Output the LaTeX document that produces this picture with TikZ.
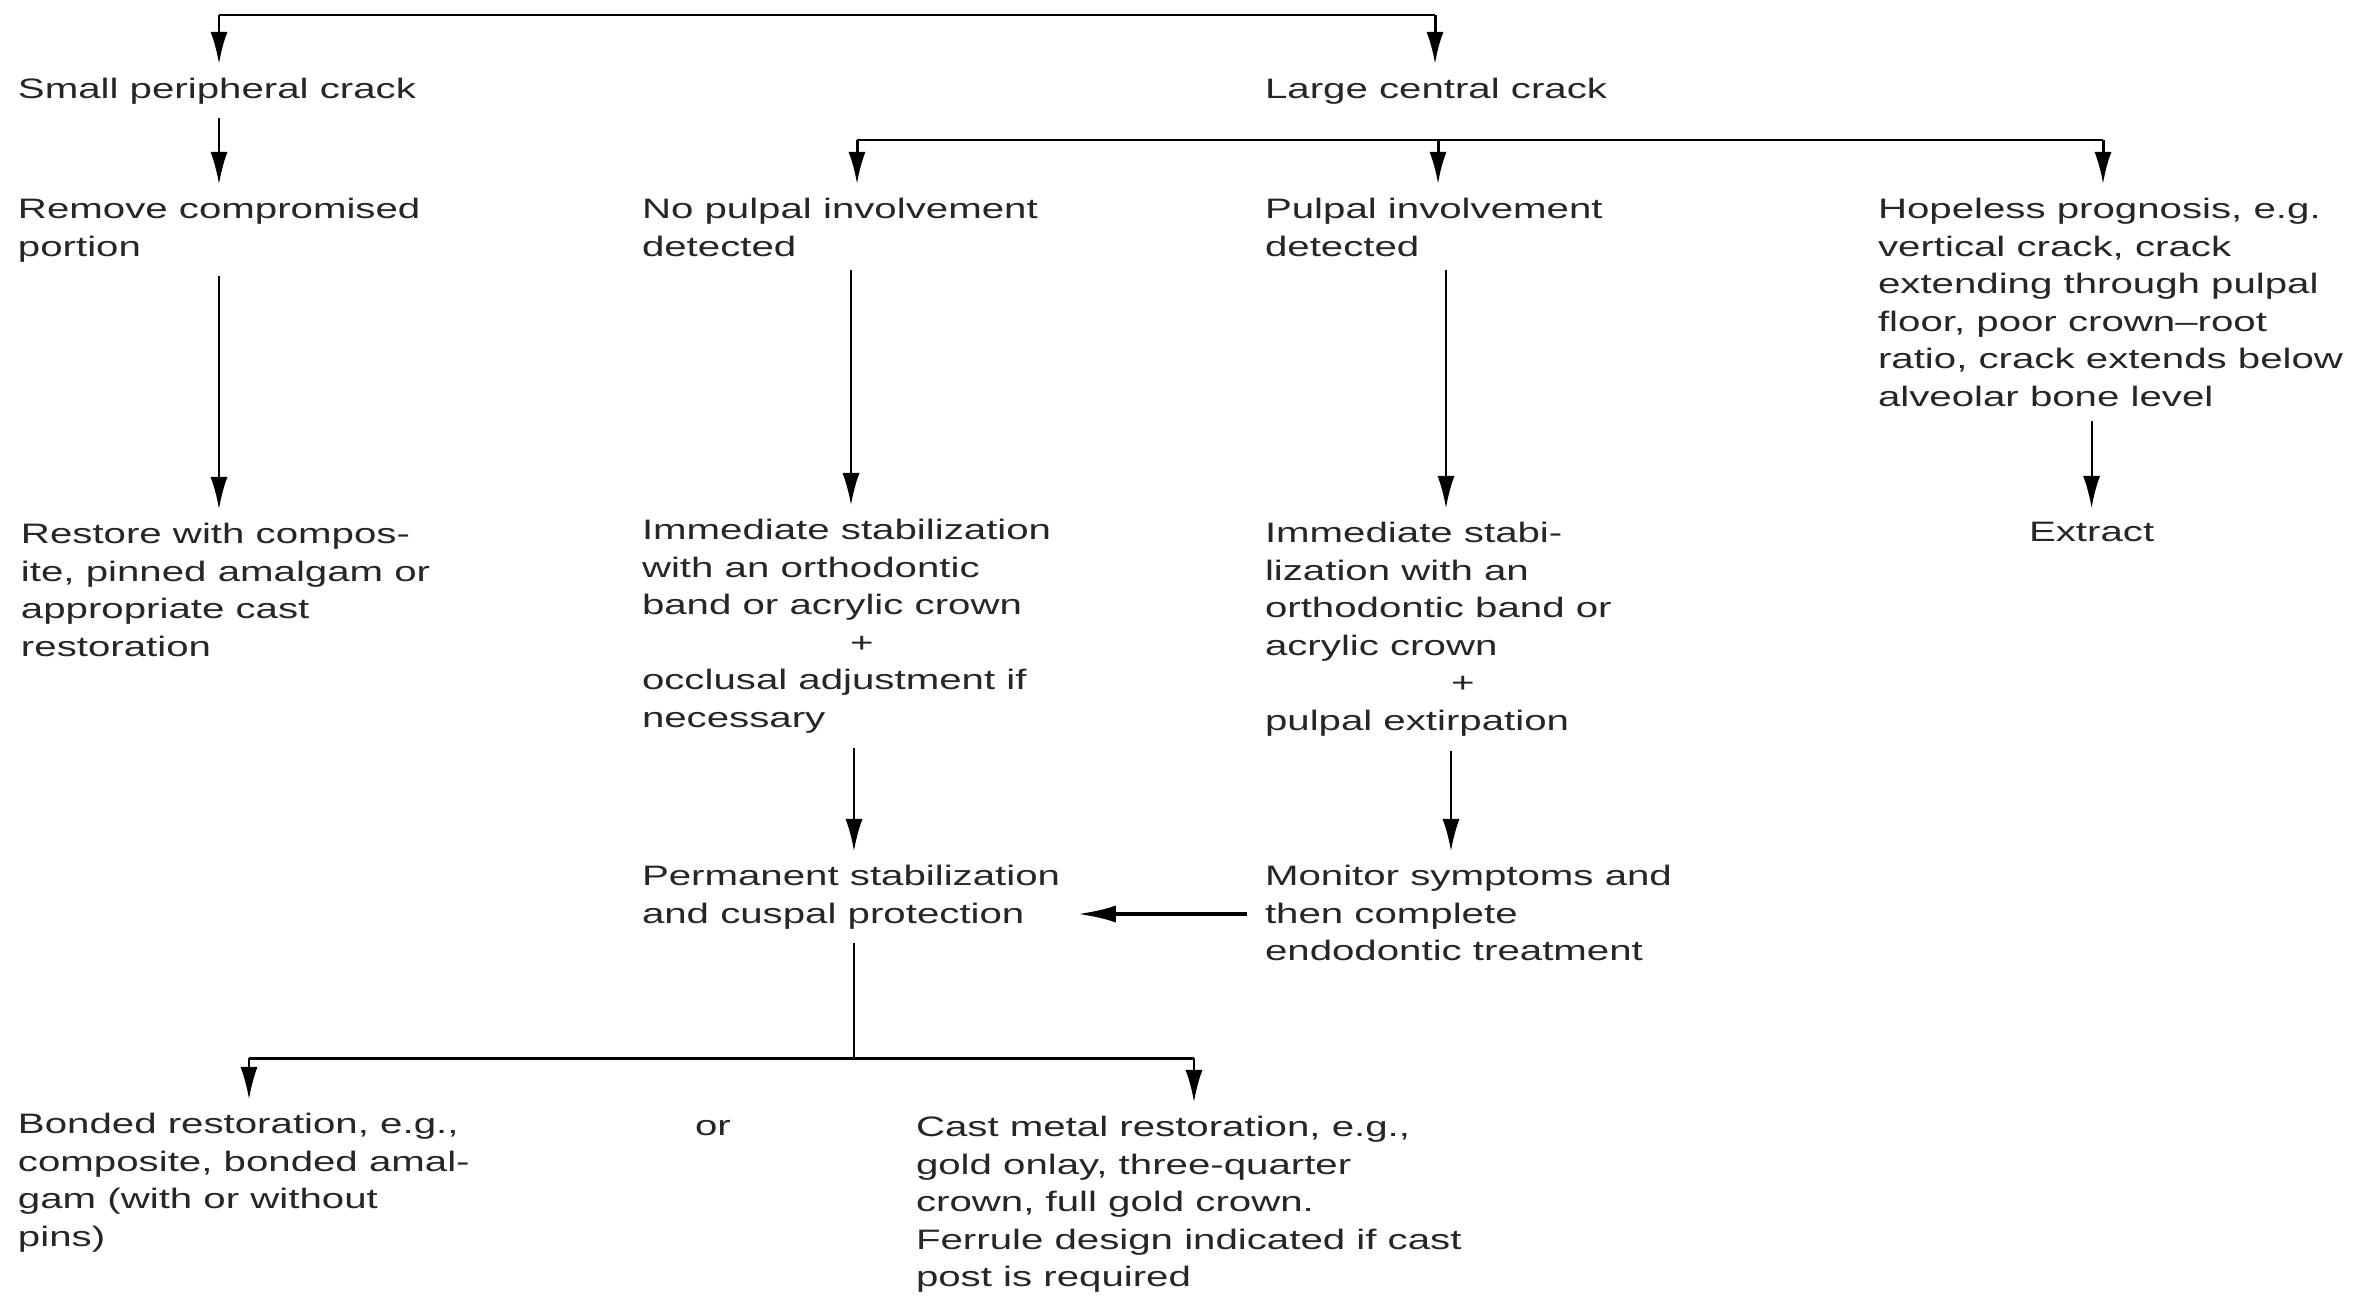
\documentclass[tikz,border=0pt]{standalone}
\usepackage{fontspec}
\setmainfont{Liberation Sans}[FakeStretch=1.43]
\usetikzlibrary{arrows.meta,positioning}

\begin{document}
\begin{tikzpicture}[x=0.01cm,y=-0.01cm,
  txt/.style={align=left,anchor=north west,inner sep=0pt,outer xsep=0pt,outer ysep=4pt,
    text=black!85,font=\fontsize{8}{10.7}\selectfont},
  arr/.style={-{Latex[length=0.32cm,width=0.17cm]},line width=0.6pt},
  bar/.style={line width=0.85pt}]
\useasboundingbox (0,0) rectangle (2369,1297);

       \node [txt] (small) at (18,64) {Small peripheral crack};
       \node [txt] (large) at (1265,64) {Large central crack};
       \node [txt] (remove) at (18,184) {Remove compromised\\portion};
       \node [txt] (nopulp) at (642,184) {No pulpal involvement\\detected};
       \node [txt] (pulp) at (1265,184) {Pulpal involvement\\detected};
       \node [txt] (hopeless) at (1878,184) {Hopeless prognosis, e.g.\\vertical crack, crack\\extending through pulpal\\floor, poor crown--root\\ratio, crack extends below\\alveolar bone level};
       \node [txt] (restore) at (21,509) {Restore with compos-\\ite, pinned amalgam or\\appropriate cast\\restoration};
       \node [txt] (immed1) at (642,505) {Immediate stabilization\\with an orthodontic\\band or acrylic crown\\\hspace*{2.08cm}+\\occlusal adjustment if\\necessary};
       \node [txt] (immed2) at (1265,508) {Immediate stabi-\\lization with an\\orthodontic band or\\acrylic crown\\\hspace*{1.86cm}+\\pulpal extirpation};
       \node [txt] (extract) at (2029,508) {Extract};
       \node [txt] (perm) at (642,851) {Permanent stabilization\\and cuspal protection};
       \node [txt] (monitor) at (1265,851) {Monitor symptoms and\\then complete\\endodontic treatment};
       \node [txt] (bonded) at (18,1099) {Bonded restoration, e.g.,\\composite, bonded amal-\\gam (with or without\\pins)};
       \node [txt] (or) at (695,1106) {or};
       \node [txt] (cast) at (916,1102) {Cast metal restoration, e.g.,\\gold onlay, three-quarter\\crown, full gold crown.\\Ferrule design indicated if cast\\post is required};

\coordinate (top1) at (219,15);
\coordinate (top2) at (1435,15);
\coordinate (mid1) at (857,140);
\coordinate (mid2) at (1438,140);
\coordinate (mid3) at (2103,140);
\coordinate (col1) at (851,0);
\coordinate (col2) at (1446,0);
\coordinate (col3) at (854,0);
\coordinate (col4) at (1451,0);
\coordinate (split) at (854,1058);
\coordinate (lt) at (249,1058);
\coordinate (rt) at (1194,1058);

\draw [bar] (top1) -- (top2);
\draw [arr,bar] (top1) -- (top1 |- small.north);
\draw [arr,bar] (top2) -- (top2 |- large.north);
\draw [arr] (top1 |- small.south) -- (top1 |- remove.north);
\draw [bar] (mid1) -- (mid3);
\draw [arr,bar] (mid1) -- (mid1 |- nopulp.north);
\draw [arr,bar] (mid2) -- (mid2 |- pulp.north);
\draw [arr,bar] (mid3) -- (mid3 |- hopeless.north);
\draw [arr] (top1 |- remove.south) -- (top1 |- restore.north);
\draw [arr] (col1 |- nopulp.south) -- (col1 |- immed1.north);
\draw [arr] (col2 |- pulp.south) -- (col2 |- immed2.north);
\draw [arr] (hopeless.south -| extract.north) -- (extract);
\draw [arr] (col3 |- immed1.south) -- (col3 |- perm.north);
\draw [arr] (col4 |- immed2.south) -- (col4 |- monitor.north);
\draw [-{Latex[length=0.38cm,width=0.17cm]},line width=1.1pt,shorten <=5pt,shorten >=5pt] (monitor.west |- 0,914) -- (perm.east |- 0,914);
\draw [line width=0.6pt] (split |- perm.south) -- (split);
\draw [bar] (lt) -- (rt);
\draw [arr] (lt) -- (lt |- bonded.north);
\draw [arr] (rt) -- (rt |- cast.north);

\end{tikzpicture}
\end{document}
